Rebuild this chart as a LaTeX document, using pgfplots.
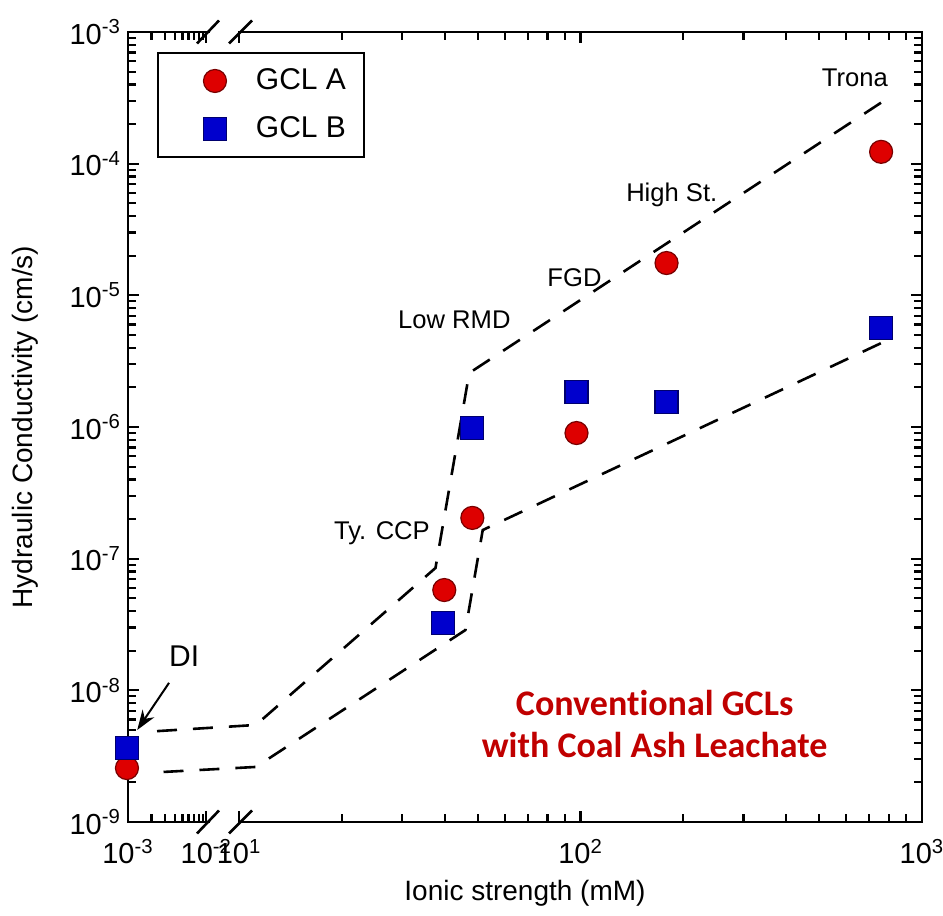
\documentclass[border=0pt]{standalone}
\usepackage{pgfplots}
\pgfplotsset{compat=1.18}
\usetikzlibrary{arrows.meta}
\usepackage{fontspec}
\setmainfont{Liberation Sans}
\newfontfamily\carlito[Ligatures=NoCommon]{Carlito}
\definecolor{mred}{RGB}{222,0,0}
\definecolor{mredd}{RGB}{120,0,0}
\definecolor{mblue}{RGB}{0,0,205}
\definecolor{mblued}{RGB}{0,0,110}
\definecolor{txtred}{RGB}{192,0,0}
\begin{document}
\begin{tikzpicture}
\begin{axis}[
  name=ax,
  at={(0,0)}, anchor=south west,
  scale only axis, width=397pt, height=395pt,
  clip=false,
  x coord trafo/.code={\pgfmathparse{(#1<0.5) ? (log10(#1)+3)*79 : 112+(log10(#1)-1)*341}},
  xmin=0.001, xmax=1000,
  ymode=log, ymin=1e-9, ymax=1e-3,
  xtick={0.001,0.01,10,100,1000},
  xticklabels={10\textsuperscript{-3},10\textsuperscript{-2},10\textsuperscript{1},10\textsuperscript{2},10\textsuperscript{3}},
  minor xtick={0.002,0.003,0.004,0.005,0.006,0.007,0.008,0.009,20,30,40,50,60,70,80,90,200,300,400,500,600,700,800,900},
  ytick={1e-9,1e-8,1e-7,1e-6,1e-5,1e-4,1e-3},
  minor ytick={2e-9,3e-9,4e-9,5e-9,6e-9,7e-9,8e-9,9e-9,
               2e-8,3e-8,4e-8,5e-8,6e-8,7e-8,8e-8,9e-8,
               2e-7,3e-7,4e-7,5e-7,6e-7,7e-7,8e-7,9e-7,
               2e-6,3e-6,4e-6,5e-6,6e-6,7e-6,8e-6,9e-6,
               2e-5,3e-5,4e-5,5e-5,6e-5,7e-5,8e-5,9e-5,
               2e-4,3e-4,4e-4,5e-4,6e-4,7e-4,8e-4,9e-4},
  yticklabels={10\textsuperscript{-9},10\textsuperscript{-8},10\textsuperscript{-7},10\textsuperscript{-6},10\textsuperscript{-5},10\textsuperscript{-4},10\textsuperscript{-3}},
  tick label style={font=\fontsize{14.5}{16}\selectfont},
  xticklabel style={yshift=-5pt},
  label style={font=\fontsize{14}{16}\selectfont},
  xlabel={Ionic strength (mM)},
  ylabel={Hydraulic Conductivity (cm/s)},
  ylabel style={at={(axis description cs:-0.1297,0.5)}, anchor=center},
  xlabel style={at={(axis description cs:0.5,-0.0899)}, anchor=center},
  axis line style={line width=1.4pt},
  tick style={line width=1.1pt, black},
  major tick length=5.5pt, minor tick length=4pt,
  legend style={at={(0.0365,0.9747)}, anchor=north west, draw=black, line width=1pt,
    font=\fontsize{15}{18}\selectfont, inner xsep=7pt, inner ysep=6pt, row sep=8pt},
  legend cell align=left,
  legend image code/.code={\path (-21pt,0pt) (18pt,0pt); \draw[#1] plot coordinates {(0pt,0pt)};},
]
% dashed envelope lines
\addplot[black, line width=1.3pt, dash pattern=on 10pt off 8pt, forget plot]
  coordinates {(0.0024,4.9e-9) (11.2,5.46e-9) (37.6,8.5e-8) (47.2,2.57e-6) (764,2.94e-4)};
\addplot[black, line width=1.3pt, dash pattern=on 10pt off 8pt, forget plot]
  coordinates {(0.0029,2.40e-9) (11.2,2.62e-9) (46.0,2.87e-8) (51.7,1.65e-7) (794,4.58e-6)};
% data
\addplot[only marks, mark=*, mark size=5.75pt, mark options={fill=mred, draw=mredd, line width=0.6pt}]
  coordinates {(0.001,2.57e-9) (39.9,5.78e-8) (48.2,2.04e-7) (97.3,9.0e-7) (178.6,1.76e-5) (759,1.23e-4)};
\addlegendentry{GCL A}
\addplot[only marks, mark=square*, mark size=5.75pt, mark options={fill=mblue, draw=mblued, line width=0.6pt}]
  coordinates {(0.001,3.65e-9) (39.5,3.24e-8) (48.2,9.8e-7) (97.3,1.85e-6) (178.6,1.55e-6) (759,5.65e-6)};
\addlegendentry{GCL B}
% annotations
\node[font=\fontsize{12.8}{15}\selectfont] at (axis cs:636,4.48e-4) {Trona};
\node[font=\fontsize{12.8}{15}\selectfont] at (axis cs:185,5.78e-5) {High St.};
\node[font=\fontsize{12.8}{15}\selectfont] at (axis cs:96,1.355e-5) {FGD};
\node[font=\fontsize{12.8}{15}\selectfont] at (axis cs:42.7,6.5e-6) {Low RMD};
\node[font=\fontsize{12.8}{15}\selectfont] at (axis cs:26.2,1.57e-7) {Ty. CCP};
\node[font=\fontsize{15}{18}\selectfont] at (axis cs:0.00527,1.82e-8) {DI};
\draw[-{Stealth[length=10pt,width=7pt]}, line width=1pt] (axis cs:0.0034,1.14e-8) -- (axis cs:0.00134,5.0e-9);
\node[font=\carlito\bfseries\fontsize{18}{21}\selectfont, text=txtred, align=center] at (axis cs:164.8,5.55e-9) {Conventional GCLs\\with Coal Ash Leachate};
\end{axis}
% axis break
\foreach \a in {south west, north west} {
  \fill[white] ([xshift=41pt,yshift=-1.5pt]ax.\a) rectangle ([xshift=55pt,yshift=1.5pt]ax.\a);
  \draw[line width=1.3pt] ([xshift=34.5pt,yshift=-5.75pt]ax.\a) -- ++(11pt,11.5pt);
  \draw[line width=1.3pt] ([xshift=50.5pt,yshift=-5.75pt]ax.\a) -- ++(11.5pt,11.5pt);
}
\pgfresetboundingbox
\path (-64pt,-47pt) rectangle (407.5pt,411pt);
\end{tikzpicture}
\end{document}
